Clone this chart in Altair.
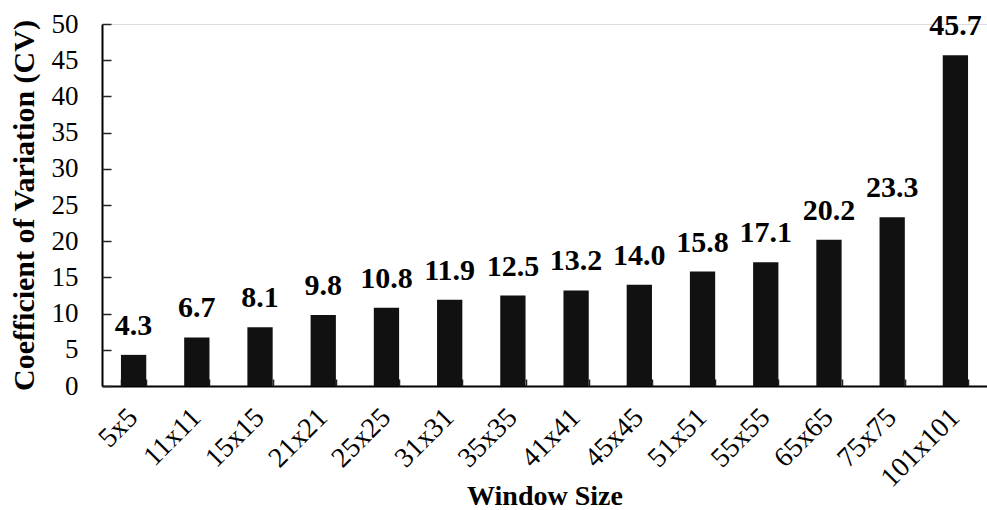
import altair as alt
import pandas as pd

# Window sizes and their coefficient of variation
windows = ["5x5", "11x11", "15x15", "21x21", "25x25", "31x31", "35x35",
           "41x41", "45x45", "51x51", "55x55", "65x65", "75x75", "101x101"]
cv_values = [4.3, 6.7, 8.1, 9.8, 10.8, 11.9, 12.5, 13.2, 14.0, 15.8, 17.1,
             20.2, 23.3, 45.7]
y_ticks = [0, 5, 10, 15, 20, 25, 30, 35, 40, 45, 50]

df = pd.DataFrame({"window": windows, "cv": cv_values})

FONT = "Liberation Serif"
W, H = 885, 362

x_scale = alt.Scale(paddingInner=0.6, paddingOuter=0.3)
y_scale = alt.Scale(domain=[0, 50], nice=False)

base = alt.Chart(df)

# Bars carry the labelled axes (left and bottom)
bars = base.mark_bar(color="#111111").encode(
    x=alt.X("window:N", sort=windows, scale=x_scale,
            axis=alt.Axis(title="Window Size", labelAngle=-45, labelAlign="right",
                          labelBaseline="middle", labelPadding=27, ticks=False,
                          tickSize=0, domainColor="black", domainWidth=2,
                          labelFont=FONT, labelFontSize=28, labelColor="black",
                          titleFont=FONT, titleFontSize=28, titleFontWeight="bold",
                          titleColor="black", titleBaseline="alphabetic",
                          titleY=118)),
    y=alt.Y("cv:Q", scale=y_scale,
            axis=alt.Axis(title="Coefficient of Variation (CV)", values=y_ticks,
                          ticks=False, tickSize=0, grid=False, domainColor="black",
                          domainWidth=2, labelPadding=24, labelFont=FONT,
                          labelFontSize=27, labelColor="black", titleFont=FONT,
                          titleFontSize=30, titleFontWeight="bold", titleColor="black",
                          titlePadding=12)),
)

# Value labels carry the inward-pointing tick axes
labels = base.mark_text(font=FONT, fontSize=30, fontWeight="bold", color="black",
                        baseline="alphabetic", dy=-20).encode(
    x=alt.X("window:N", sort=windows, scale=x_scale,
            axis=alt.Axis(orient="top", offset=-H, labels=False, domain=False,
                          title=None, tickBand="extent", tickSize=7, tickWidth=1.5,
                          tickColor="#222222")),
    y=alt.Y("cv:Q", scale=y_scale,
            axis=alt.Axis(orient="right", offset=-W, labels=False, domain=False,
                          title=None, grid=False, values=y_ticks,
                          tickSize=9, tickWidth=1.5, tickColor="#222222")),
    text=alt.Text("cv:Q", format=".1f"),
)

chart = alt.layer(bars, labels).resolve_axis(x="independent", y="independent").properties(
    width=W, height=H,
    autosize=alt.AutoSizeParams(type="none"),
    padding={"left": 102, "top": 24, "right": 0, "bottom": 124},
).configure_view(stroke=None).configure(
    background="white", font=FONT
).configure_axis(labelFont=FONT, titleFont=FONT)

chart.save("out.html", embed_options={"renderer": "svg", "actions": False})
